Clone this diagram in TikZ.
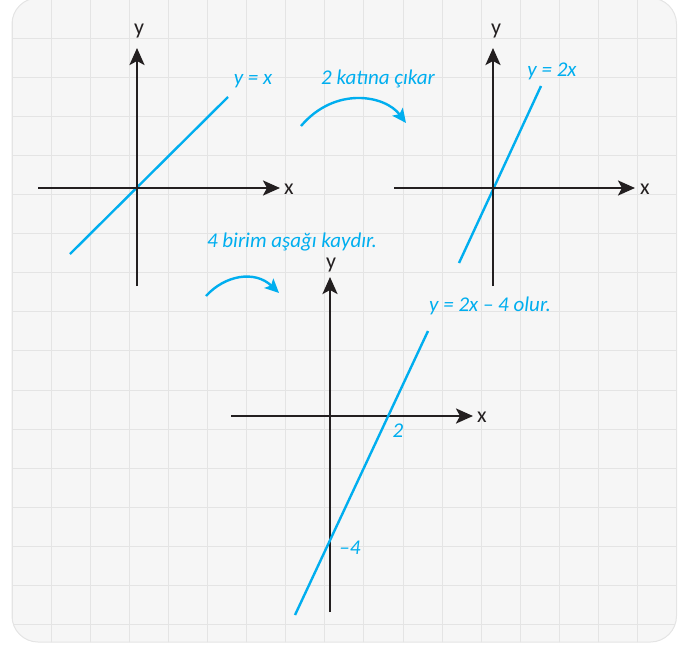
\documentclass[tikz,border=0pt]{standalone}
\usepackage{fontspec}
\setmainfont{Carlito}
\usetikzlibrary{arrows.meta}
\definecolor{cyanline}{RGB}{0,174,239}
\definecolor{axisdark}{RGB}{35,31,32}
\definecolor{gridgray}{RGB}{228,228,228}
\definecolor{paper}{RGB}{246,246,246}
\begin{document}
\begin{tikzpicture}[x=1pt,y=-1pt,
  axis/.style={line width=2.6pt, draw=axisdark},
  axarrow/.style={axis, -{Stealth[length=17pt,width=15pt,inset=4pt]}},
  fline/.style={line width=2.4pt, draw=cyanline},
  bluetext/.style={text=cyanline, inner sep=0pt, font=\itshape\fontsize{21}{24}\selectfont},
  axlabel/.style={text=axisdark, inner sep=0pt, font=\fontsize{22}{24}\selectfont},
  curvearrow/.style={line width=2.4pt, draw=cyanline, -{Stealth[length=14pt,width=13pt,inset=3pt]}}]

\useasboundingbox (0,0) rectangle (679,645);
\path[fill=paper, draw=gridgray, line width=1pt, rounded corners=26pt] (12,-2) rectangle (676.5,642);
\begin{scope}
  \clip[rounded corners=26pt] (12,-2) rectangle (676.5,642);
  \foreach \k in {0,...,16} \draw[gridgray, line width=1pt] ({12+39.1*\k},-2) -- ({12+39.1*\k},645);
  \foreach \k in {1,...,16} \draw[gridgray, line width=1pt] (0,{-1+39.1*\k}) -- (679,{-1+39.1*\k});
\end{scope}

% Graph 1: y = x
\coordinate (x1s) at (38,188);  \coordinate (x1e) at (280,188);
\coordinate (y1s) at (137,286); \coordinate (y1e) at (137,48);
\coordinate (l1s) at (70,254);  \coordinate (l1e) at (228,97);
\draw[fline] (l1s) -- (l1e);
\draw[axarrow] (x1s) -- (x1e);
\draw[axarrow] (y1s) -- (y1e);
\node[axlabel] (xl1) at (289,189) {x};
\node[axlabel] (yl1) at (139,31) {y};
\node[bluetext] (eq1) at (253,81) {y = x};

% Arrow 1
\node[bluetext] (t1) at (378,79) {2 katına çıkar};
\coordinate (a1s) at (301,126); \coordinate (a1e) at (406,123);
\draw[curvearrow] (a1s) .. controls (335,86) and (385,95) .. (a1e);

% Graph 2: y = 2x
\coordinate (x2s) at (394,188); \coordinate (x2e) at (635,188);
\coordinate (y2s) at (493,286); \coordinate (y2e) at (493,48);
\coordinate (l2s) at (459,263); \coordinate (l2e) at (541,86);
\draw[fline] (l2s) -- (l2e);
\draw[axarrow] (x2s) -- (x2e);
\draw[axarrow] (y2s) -- (y2e);
\node[axlabel] (xl2) at (645,189) {x};
\node[axlabel] (yl2) at (496,31) {y};
\node[bluetext] (eq2) at (552,71) {y = 2x};

% Arrow 2
\node[bluetext] (t2) at (292,242) {4 birim aşağı kaydır.};
\coordinate (a2s) at (206,296); \coordinate (a2e) at (279,293);
\draw[curvearrow] (a2s) .. controls (225,275) and (255,270) .. (a2e);

% Graph 3: y = 2x - 4
\coordinate (x3s) at (231,416); \coordinate (x3e) at (473,416);
\coordinate (y3s) at (330,612); \coordinate (y3e) at (330,277);
\coordinate (l3s) at (295,615); \coordinate (l3e) at (428,331);
\draw[axarrow] (x3s) -- (x3e);
\draw[axarrow] (y3s) -- (y3e);
\draw[fline] (l3s) -- (l3e);
\node[axlabel] (xl3) at (482,417) {x};
\node[axlabel] (yl3) at (331,265) {y};
\node[bluetext] (eq3) at (490,306) {y = 2x – 4 olur.};
\node[bluetext] (n2) at (398,431) {2};
\node[bluetext] (n4) at (350,548) {–4};
\end{tikzpicture}
\end{document}
